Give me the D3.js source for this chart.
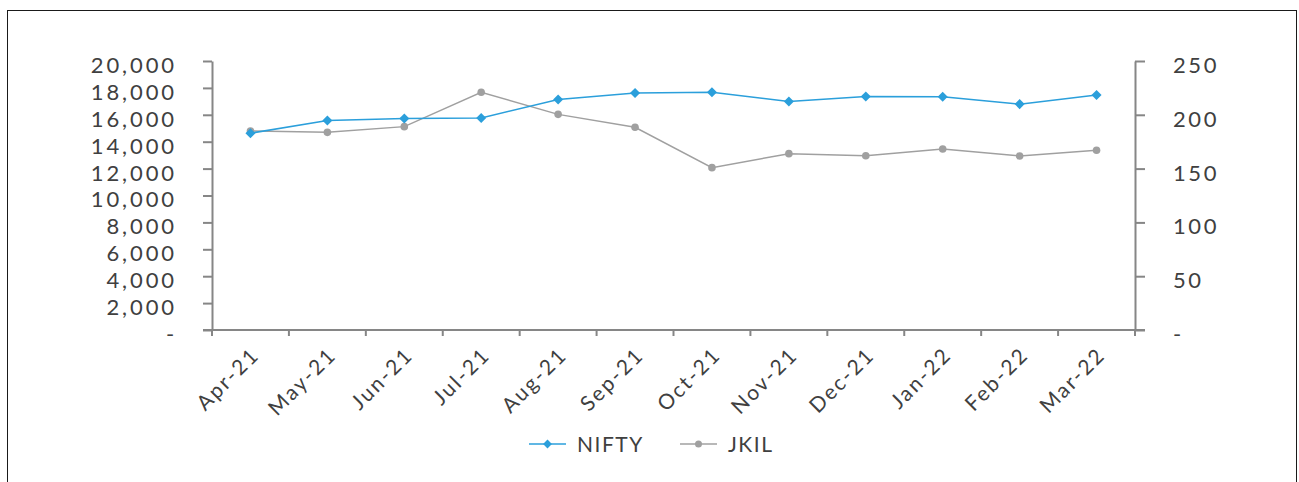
<!DOCTYPE html>
<html><head><meta charset="utf-8">
<script src="https://cdn.jsdelivr.net/npm/d3@7"></script>
<style>
html,body{margin:0;padding:0;background:#fff;}
svg{display:block;}
</style></head>
<body>
<svg id="chart" width="1299" height="482"></svg>
<script>
const categories = ["Apr-21","May-21","Jun-21","Jul-21","Aug-21","Sep-21","Oct-21","Nov-21","Dec-21","Jan-22","Feb-22","Mar-22"];
const niftyValues = [14631, 15583, 15722, 15763, 17132, 17618, 17672, 16983, 17354, 17340, 16794, 17465];
const jkilValues = [185, 183.7, 189, 220.9, 200.4, 188.4, 150.9, 163.9, 162, 168.2, 161.7, 167];
const leftTicks = [0, 2000, 4000, 6000, 8000, 10000, 12000, 14000, 16000, 18000, 20000];
const rightTicks = [0, 50, 100, 150, 200, 250];
const seriesNames = ["NIFTY", "JKIL"];

const FONT = "Lato, 'DejaVu Sans', sans-serif";
const TXT = "#404040";
const AX = "#868686";
const BLUE = "#2b9fdb";
const GRAY = "#a0a0a0";

const svg = d3.select("#chart");
svg.append("rect").attr("x",7.5).attr("y",10.5).attr("width",1289).attr("height",490)
  .attr("fill","none").attr("stroke","#1a1a1a").attr("stroke-width",1);

const L = 212, R = 1135, T = 61, B = 330;
const x = d3.scaleBand().domain(categories).range([L, R]);
const yL = d3.scaleLinear().domain([0, 20000]).range([B, T]);
const yR = d3.scaleLinear().domain([0, 250]).range([B, T]);

const fmt = v => v === 0 ? "-" : d3.format(",")(v);

function styleAxis(g, ls){
  g.selectAll("path").attr("stroke", AX).attr("stroke-width", 2);
  g.selectAll("line").attr("stroke", AX).attr("stroke-width", 2);
  g.selectAll("text").attr("fill", TXT).attr("font-family", FONT)
    .attr("font-size", 22).attr("letter-spacing", ls);
}

// left axis
const gL = svg.append("g").attr("transform", `translate(${L},0)`)
  .call(d3.axisLeft(yL).tickValues(leftTicks).tickFormat(fmt).tickSize(9).tickSizeOuter(0).tickPadding(26));
styleAxis(gL, 2.9);
gL.selectAll("text").attr("dy", "0.52em");

// right axis
const gR = svg.append("g").attr("transform", `translate(${R},0)`)
  .call(d3.axisRight(yR).tickValues(rightTicks).tickFormat(fmt).tickSize(10).tickSizeOuter(0).tickPadding(28));
styleAxis(gR, 2.6);
gR.selectAll("text").attr("dy", "0.52em");

// x axis: ticks at band boundaries
const gX = svg.append("g");
gX.append("line").attr("x1", L - 9).attr("x2", R + 10).attr("y1", B).attr("y2", B)
  .attr("stroke", AX).attr("stroke-width", 2);
const bounds = categories.map(c => x(c)).concat([R]);
gX.selectAll("line.tk").data(bounds).enter().append("line").attr("class","tk")
  .attr("x1", d => d).attr("x2", d => d).attr("y1", B).attr("y2", B + 6)
  .attr("stroke", AX).attr("stroke-width", 2);
gX.selectAll("text").data(categories).enter().append("text")
  .attr("transform", d => `translate(${x(d) + x.bandwidth()/2 + 5},${B + 21}) rotate(-45)`)
  .attr("text-anchor", "end").attr("dy", "0.35em")
  .attr("fill", TXT).attr("font-family", FONT).attr("font-size", 21).attr("letter-spacing", 2.2)
  .text(d => d);

const cx = d => x(d) + x.bandwidth()/2;

// JKIL line
const lineR = d3.line().x((d,i) => cx(categories[i])).y(d => yR(d));
svg.append("path").datum(jkilValues).attr("d", lineR).attr("fill","none")
  .attr("stroke", GRAY).attr("stroke-width", 1.5);
svg.selectAll("circle.jk").data(jkilValues).enter().append("circle").attr("class","jk")
  .attr("cx", (d,i) => cx(categories[i])).attr("cy", d => yR(d)).attr("r", 3.8).attr("fill", GRAY);

// NIFTY line
const lineL = d3.line().x((d,i) => cx(categories[i])).y(d => yL(d));
svg.append("path").datum(niftyValues).attr("d", lineL).attr("fill","none")
  .attr("stroke", BLUE).attr("stroke-width", 1.5);
const diamond = d3.symbol().type(d3.symbolDiamond2).size(64);
svg.selectAll("path.nf").data(niftyValues).enter().append("path").attr("class","nf")
  .attr("d", diamond)
  .attr("transform", (d,i) => `translate(${cx(categories[i])},${yL(d)})`).attr("fill", BLUE);

// legend
const leg = svg.append("g");
const legItems = [
  {name: seriesNames[0], color: BLUE, x: 529, sym: "d"},
  {name: seriesNames[1], color: GRAY, x: 680, sym: "c"}
];
const ly = 444;
legItems.forEach(it => {
  leg.append("line").attr("x1", it.x).attr("x2", it.x + 37).attr("y1", ly).attr("y2", ly)
    .attr("stroke", it.color).attr("stroke-width", 1.5);
  if (it.sym === "d") {
    leg.append("path").attr("d", d3.symbol().type(d3.symbolDiamond2).size(50))
      .attr("transform", `translate(${it.x + 18.5},${ly})`).attr("fill", it.color);
  } else {
    leg.append("circle").attr("cx", it.x + 18.5).attr("cy", ly).attr("r", 3.5).attr("fill", it.color);
  }
  leg.append("text").attr("x", it.x + 48).attr("y", ly).attr("dy", "0.36em")
    .attr("fill", TXT).attr("font-family", FONT).attr("font-size", 21).attr("letter-spacing", 1.5)
    .text(it.name);
});
</script>
</body></html>
